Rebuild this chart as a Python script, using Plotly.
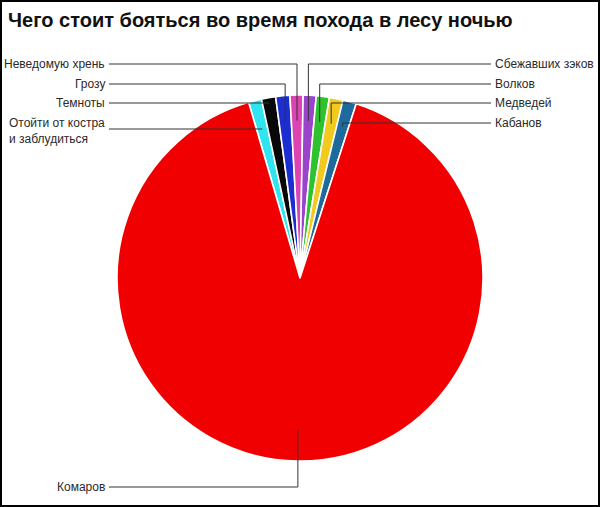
import math
import plotly.graph_objects as go

# slices go clockwise from the left edge of the thin fan
labels = ["Отойти от костра<br>и заблудиться", "Темноты", "Грозу", "Неведомую хрень",
          "Сбежавших зэков", "Волков", "Медведей", "Кабанов", "Комаров"]
values = [1.15, 1.25, 1.25, 1.15, 1.15, 1.15, 1.2, 1.2, 90.5]
colors = ["#30e4f0", "#080808", "#1c2ed0", "#dc44b4", "#9a44cc",
          "#2ec22e", "#f2ca1e", "#1f6a9c", "#f00000"]

W, H = 600, 507
CX, CY, R = 300, 278, 183
ROT = -16.3  # where the first slice starts, degrees clockwise from 12 o'clock


def px(x):
    return x / W


def py(y):
    return 1 - y / H


# mid-angle of every slice, same rule plotly uses for clockwise pies
total = sum(values)
mids = []
acc = ROT
for v in values:
    mids.append(acc + 360 * v / total / 2)
    acc += 360 * v / total


def on_ray(deg, r):
    a = math.radians(deg)
    return CX + r * math.sin(a), CY - r * math.cos(a)


fig = go.Figure(go.Pie(
    labels=labels, values=values, sort=False, direction="clockwise", rotation=ROT,
    marker=dict(colors=colors, line=dict(color="white", width=1.6)),
    textinfo="none", showlegend=False,
    domain=dict(x=[px(CX - R), px(CX + R)], y=[py(CY + R), py(CY - R)]),
))

# label placement: (slice index, side, label y, elbow?)
callouts = [(3, "left", 64, True), (2, "left", 84, True), (1, "left", 103, False),
            (0, "left", 129, False),
            (4, "right", 64, True), (5, "right", 84, True), (6, "right", 103, True),
            (7, "right", 123, True), (8, "left", 487, True)]

shapes = []
annotations = []
for i, side, ly, elbow in callouts:
    if elbow:
        ax, ay = on_ray(mids[i], R * (0.83 if i == 8 else 0.86))
    else:
        a = math.radians(mids[i])
        ay = ly
        ax = CX + (CY - ly) * math.tan(a)
    lx = 109 if side == "left" else 491
    path = f"M {px(lx)},{py(ly)} L {px(ax)},{py(ly)} L {px(ax)},{py(ay)}"
    shapes.append(dict(type="path", path=path, xref="paper", yref="paper",
                       line=dict(color="#333333", width=1)))
    text_y = 130.5 if i == 0 else ly
    annotations.append(dict(
        text=labels[i], x=px(107 if side == "left" else 493), y=py(text_y),
        xref="paper", yref="paper", showarrow=False, align="left",
        xanchor="right" if side == "left" else "left", yanchor="middle",
        font=dict(family="Liberation Sans", size=12, color="#2a2a2a"),
    ))

shapes.append(dict(type="rect", xref="paper", yref="paper", x0=px(1), x1=px(599),
                   y0=py(506), y1=py(1), line=dict(color="black", width=2)))

fig.update_layout(
    width=W, height=H,
    margin=dict(l=0, r=0, t=0, b=0),
    paper_bgcolor="white", plot_bgcolor="white",
    title=dict(text="<b>Чего стоит бояться во время похода в лесу ночью</b>",
               x=px(8), xanchor="left", y=py(20), yanchor="middle",
               font=dict(family="Liberation Sans", size=20, color="#111111")),
    shapes=shapes, annotations=annotations,
)

fig.write_html("out.html", config={"displayModeBar": False},
               post_script="document.body.style.margin='0';")
